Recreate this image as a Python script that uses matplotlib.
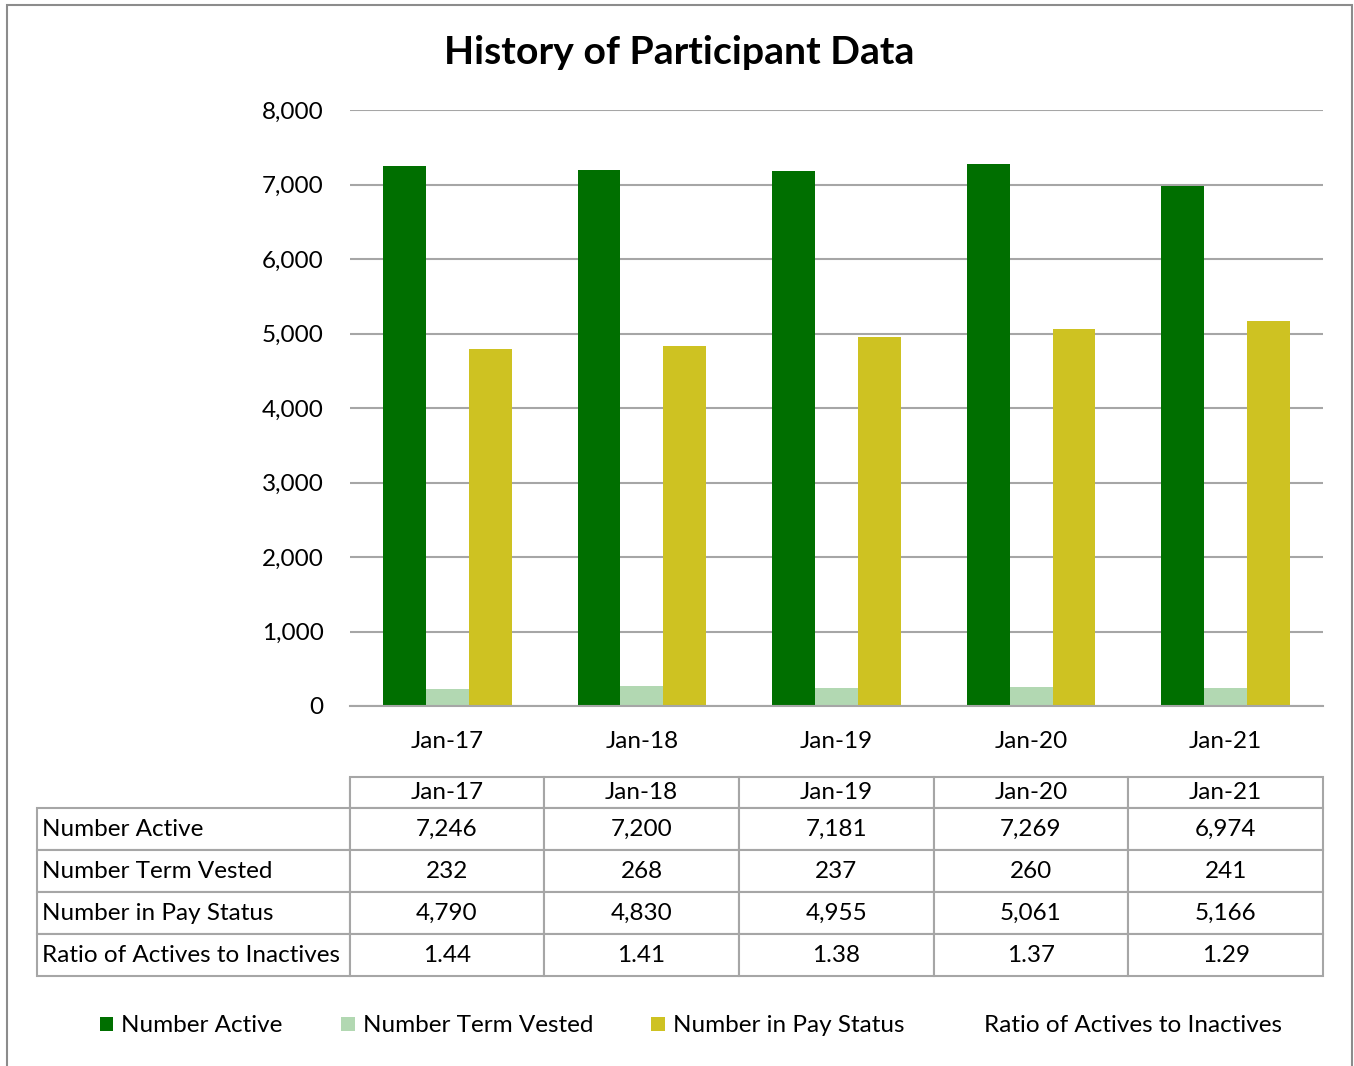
import numpy as np
import matplotlib
matplotlib.use('Agg')
import matplotlib.pyplot as plt
from matplotlib.table import Table
from matplotlib.patches import Rectangle, Patch

plt.rcParams['font.family'] = ['Lato', 'DejaVu Sans']

# data
years = ['Jan-17', 'Jan-18', 'Jan-19', 'Jan-20', 'Jan-21']
number_active = [7246, 7200, 7181, 7269, 6974]
term_vested = [232, 268, 237, 260, 241]
pay_status = [4790, 4830, 4955, 5061, 5166]
ratio = [1.44, 1.41, 1.38, 1.37, 1.29]

series_names = ['Number Active', 'Number Term Vested', 'Number in Pay Status',
                'Ratio of Actives to Inactives']
colors = ['#006F00', '#B2D8B2', '#CEC222']
grid_col = '#A6A6A6'
fs = 17.5

W, H = 1354, 1066
fig = plt.figure(figsize=(W / 100, H / 100), dpi=100)

# frame around the whole chart
fig.add_artist(Rectangle((7 / W, -0.05), (1352 - 7) / W, 1.05 - 5 / H,
                         transform=fig.transFigure, fill=False,
                         edgecolor='#8C8C8C', linewidth=1.5))

ax = fig.add_axes([350 / W, 1 - 706 / H, (1323 - 350) / W, (706 - 110) / H])
x = np.arange(len(years))
bw = 0.22
ax.bar(x - bw, number_active, bw, color=colors[0], zorder=3)
ax.bar(x, term_vested, bw, color=colors[1], zorder=3)
ax.bar(x + bw, pay_status, bw, color=colors[2], zorder=3)

ax.set_xlim(-0.5, len(years) - 0.5)
ax.set_ylim(0, 8000)
ax.set_yticks(range(0, 8001, 1000))
ax.set_yticklabels(['{:,}'.format(v) for v in range(0, 8001, 1000)])
ax.set_xticks(x)
ax.set_xticklabels(years)
ax.tick_params(axis='both', length=0, labelsize=fs, colors='black')
ax.tick_params(axis='y', pad=19)
ax.tick_params(axis='x', pad=18)
ax.yaxis.grid(True, color=grid_col, linewidth=1.5, zorder=0)
for s in ['left', 'right', 'top']:
    ax.spines[s].set_visible(False)
ax.spines['bottom'].set_color(grid_col)
ax.spines['bottom'].set_linewidth(1.5)
ax.spines['bottom'].set_zorder(4)

fig.text(679 / W, 1 - 53 / H, 'History of Participant Data', ha='center',
         va='center', fontsize=28.3, fontweight='bold')

# data table
aw = 1323 - 350
ah = 706 - 110
tx0 = (37 - 350) / aw
ty1 = (706 - 777) / ah
ty0 = (706 - 976) / ah
tbl = Table(ax, bbox=[tx0, ty0, 1 - tx0, ty1 - ty0])
col_w = [313] + [195] * len(years)
row_h = [31] + [42] * 4
rows = [number_active, term_vested, pay_status, ratio]
for j in range(len(years) + 1):
    if j == 0:
        c = tbl.add_cell(0, 0, col_w[0], row_h[0], text='')
        c.visible_edges = 'R'
    else:
        c = tbl.add_cell(0, j, col_w[j], row_h[0], text=years[j - 1], loc='center')
for i, (name, vals) in enumerate(zip(series_names, rows), start=1):
    tbl.add_cell(i, 0, col_w[0], row_h[i], text=name, loc='left')
    for j, v in enumerate(vals, start=1):
        txt = '{:.2f}'.format(v) if isinstance(v, float) else '{:,}'.format(v)
        tbl.add_cell(i, j, col_w[j], row_h[i], text=txt, loc='center')
tbl.auto_set_font_size(False)
tbl.set_fontsize(fs)
for (r, c), cell in tbl.get_celld().items():
    cell.set_edgecolor(grid_col)
    cell.set_linewidth(1.5)
    if c == 0:
        cell.PAD = 0.016
tbl.set_clip_on(False)
ax.add_table(tbl)

# legend
handles = [Patch(facecolor=colors[k], edgecolor='none') for k in range(3)]
handles.append(Patch(facecolor='none', edgecolor='none'))
fig.legend(handles, series_names, loc='center', bbox_to_anchor=(691 / W, 1 - 1026 / H),
           ncol=4, frameon=False, fontsize=fs, handlelength=0.55, handleheight=0.55,
           handletextpad=0.33, columnspacing=2.4)

fig.savefig('out.png', dpi=100)
